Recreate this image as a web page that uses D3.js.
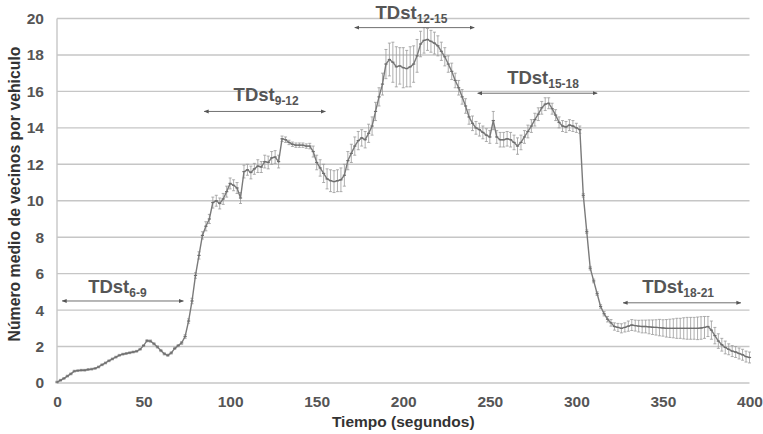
<!DOCTYPE html>
<html>
<head>
<meta charset="utf-8">
<script src="https://cdn.jsdelivr.net/npm/d3@7"></script>
<style>
  html, body { margin: 0; padding: 0; background: #fff; }
  svg { display: block; font-family: "Liberation Sans", Arial, sans-serif; }
</style>
</head>
<body>
<svg id="chart" width="763" height="434"></svg>
<script>
// ---- Data ----
const timeStep = 2; // seconds between samples
const times = d3.range(0, 401, timeStep);
const meanNeighbors = [
  0.05, 0.15, 0.25, 0.38, 0.5, 0.65, 0.68, 0.7, 0.7, 0.74,
  0.76, 0.8, 0.88, 1.0, 1.1, 1.22, 1.32, 1.42, 1.52, 1.58,
  1.62, 1.66, 1.7, 1.74, 1.85, 2.05, 2.32, 2.3, 2.15, 1.98,
  1.78, 1.6, 1.52, 1.65, 1.9, 2.05, 2.2, 2.55, 3.4, 4.5,
  5.9, 7.0, 8.1, 8.6, 9.0, 9.9, 10.0, 9.85, 10.1, 10.5,
  10.95, 10.85, 10.7, 10.15, 11.6, 11.7, 11.55, 11.75, 11.9, 11.85,
  12.15, 12.1, 12.35, 12.4, 12.15, 13.4, 13.35, 13.2, 13.1, 13.05,
  13.05, 13.05, 13.0, 13.0, 12.7, 12.1, 11.8, 11.5, 11.2, 11.1,
  11.05, 11.1, 11.15, 11.4, 12.2, 12.6, 13.0, 13.3, 13.45, 13.35,
  13.7, 14.1, 14.9, 15.7, 16.4, 17.5, 17.75, 17.6, 17.35, 17.4,
  17.3, 17.25, 17.35, 17.5, 17.95, 18.6, 18.8, 18.85, 18.75, 18.65,
  18.5, 18.2, 17.9, 17.5, 17.1, 16.6, 16.2, 15.7, 15.2, 14.6,
  14.25, 14.0, 13.9, 13.75, 13.6, 13.5, 14.4, 13.5, 13.35, 13.35,
  13.4, 13.35, 13.2, 13.0, 13.2, 13.5, 13.8, 14.1, 14.45, 14.75,
  15.1, 15.3, 15.35, 15.05, 14.7, 14.3, 14.1, 14.05, 14.15, 14.1,
  14.0, 13.9, 10.3, 8.3, 6.3, 5.6, 4.9, 4.2, 3.8, 3.5,
  3.3, 3.1, 3.05, 3.0, 3.05, 3.12, 3.18, 3.15, 3.12, 3.1,
  3.1, 3.08, 3.06, 3.05, 3.04, 3.02, 3.0, 3.0, 3.0, 3.0,
  3.0, 3.0, 3.0, 3.0, 3.0, 3.0, 3.02, 3.05, 3.1, 2.9,
  2.6, 2.3, 2.1, 1.95, 1.85, 1.75, 1.7, 1.62, 1.55, 1.45,
  1.4
];
const errorHalf = [
  0.05, 0.05, 0.05, 0.05, 0.05, 0.05, 0.05, 0.05, 0.05, 0.05,
  0.05, 0.05, 0.05, 0.05, 0.05, 0.05, 0.05, 0.05, 0.05, 0.05,
  0.05, 0.05, 0.05, 0.05, 0.05, 0.05, 0.06, 0.06, 0.06, 0.06,
  0.06, 0.06, 0.06, 0.06, 0.06, 0.06, 0.08, 0.1, 0.12, 0.15,
  0.15, 0.2, 0.2, 0.25, 0.25, 0.3, 0.3, 0.3, 0.3, 0.3,
  0.3, 0.3, 0.3, 0.3, 0.35, 0.3, 0.35, 0.3, 0.35, 0.3,
  0.35, 0.35, 0.35, 0.35, 0.35, 0.15, 0.15, 0.12, 0.12, 0.12,
  0.12, 0.12, 0.12, 0.15, 0.3, 0.4, 0.45, 0.5, 0.55, 0.6,
  0.6, 0.6, 0.65, 0.6, 0.5, 0.5, 0.5, 0.5, 0.45, 0.45,
  0.5, 0.5, 0.5, 0.5, 0.6, 0.8, 0.9, 1.1, 1.1, 1.0,
  1.1, 1.0, 1.1, 1.0, 0.9, 0.7, 0.7, 0.6, 0.6, 0.6,
  0.55, 0.5, 0.5, 0.45, 0.45, 0.4, 0.4, 0.4, 0.4, 0.4,
  0.4, 0.35, 0.35, 0.35, 0.35, 0.35, 0.5, 0.35, 0.4, 0.4,
  0.4, 0.4, 0.4, 0.45, 0.4, 0.35, 0.35, 0.35, 0.35, 0.35,
  0.35, 0.35, 0.3, 0.3, 0.3, 0.3, 0.3, 0.3, 0.3, 0.3,
  0.25, 0.2, 0.1, 0.1, 0.1, 0.1, 0.1, 0.1, 0.12, 0.15,
  0.18, 0.2, 0.22, 0.25, 0.25, 0.28, 0.3, 0.3, 0.32, 0.35,
  0.35, 0.38, 0.4, 0.42, 0.45, 0.45, 0.48, 0.5, 0.52, 0.55,
  0.55, 0.58, 0.6, 0.6, 0.6, 0.62, 0.62, 0.6, 0.55, 0.5,
  0.45, 0.4, 0.35, 0.35, 0.3, 0.3, 0.3, 0.3, 0.3, 0.3,
  0.3
];
const xTicks = [0, 50, 100, 150, 200, 250, 300, 350, 400];
const yTicks = [0, 2, 4, 6, 8, 10, 12, 14, 16, 18, 20];
const periodLabels = ["6-9", "9-12", "12-15", "15-18", "18-21"];
const periodStart = [3, 85, 172, 243, 327];
const periodEnd   = [73, 155, 241, 312, 395];
const periodValue = [4.5, 14.9, 19.5, 15.9, 4.4];
const periodTextX = [18, 102, 184, 260, 338];
const periodTextY = [4.95, 15.45, 19.95, 16.4, 4.95];
const xTitle = "Tiempo (segundos)";
const yTitle = "Número medio de vecinos por vehiculo";

// ---- Layout ----
const svg = d3.select("#chart");
const x = d3.scaleLinear().domain([0, 400]).range([57, 749.5]);
const y = d3.scaleLinear().domain([0, 20]).range([383, 18.5]);

// Gridlines
svg.append("g")
  .selectAll("line").data(yTicks).join("line")
  .attr("x1", x(0)).attr("x2", x(400))
  .attr("y1", d => y(d)).attr("y2", d => y(d))
  .attr("stroke", "#c6c6c6").attr("stroke-width", 1.4);

// Left axis line
svg.append("line")
  .attr("x1", x(0)).attr("x2", x(0))
  .attr("y1", y(20)).attr("y2", y(0))
  .attr("stroke", "#c6c6c6").attr("stroke-width", 1.4);

// Y axis labels
const yAxis = d3.axisLeft(y).tickValues(yTicks).tickSize(0).tickPadding(13);
const gy = svg.append("g").attr("transform", `translate(${x(0)},0)`).call(yAxis);
gy.select(".domain").remove();
gy.selectAll("text").attr("font-size", 15.5).attr("font-weight", "bold")
  .attr("fill", "#555").attr("font-family", "Liberation Sans, Arial, sans-serif");

// X axis labels
const xAxis = d3.axisBottom(x).tickValues(xTicks).tickSize(0).tickPadding(13);
const gx = svg.append("g").attr("transform", `translate(0,${y(0)})`).call(xAxis);
gx.select(".domain").remove();
gx.selectAll("text").attr("font-size", 15.5).attr("font-weight", "bold")
  .attr("fill", "#555").attr("font-family", "Liberation Sans, Arial, sans-serif");

// Axis titles
svg.append("text")
  .attr("x", x(200)).attr("y", 427)
  .attr("text-anchor", "middle")
  .attr("font-size", 15.5).attr("font-weight", "bold").attr("fill", "#333")
  .text(xTitle);
svg.append("text")
  .attr("transform", `translate(20,194) rotate(-90)`)
  .attr("text-anchor", "middle")
  .attr("font-size", 15.8).attr("font-weight", "bold").attr("fill", "#333")
  .text(yTitle);

// Data
const data = times.map((t, i) => ({ t, v: meanNeighbors[i], e: errorHalf[i] }));

// Error bars
const eb = svg.append("g").attr("stroke", "#9a9a9a").attr("stroke-width", 0.8);
eb.selectAll("line.v").data(data).join("line").attr("class", "v")
  .attr("x1", d => x(d.t)).attr("x2", d => x(d.t))
  .attr("y1", d => y(d.v - d.e)).attr("y2", d => y(d.v + d.e));
eb.selectAll("line.top").data(data).join("line").attr("class", "top")
  .attr("x1", d => x(d.t) - 1.5).attr("x2", d => x(d.t) + 1.5)
  .attr("y1", d => y(d.v + d.e)).attr("y2", d => y(d.v + d.e));
eb.selectAll("line.bot").data(data).join("line").attr("class", "bot")
  .attr("x1", d => x(d.t) - 1.5).attr("x2", d => x(d.t) + 1.5)
  .attr("y1", d => y(d.v - d.e)).attr("y2", d => y(d.v - d.e));

// Mean line
svg.append("path").datum(data)
  .attr("fill", "none").attr("stroke", "#7a7a7a").attr("stroke-width", 1.4)
  .attr("d", d3.line().x(d => x(d.t)).y(d => y(d.v)));

// Markers
svg.append("g").selectAll("line").data(data).join("line")
  .attr("x1", d => x(d.t) - 1.6).attr("x2", d => x(d.t) + 1.6)
  .attr("y1", d => y(d.v)).attr("y2", d => y(d.v))
  .attr("stroke", "#6e6e6e").attr("stroke-width", 1.2);

// Period annotations
const defs = svg.append("defs");
defs.append("marker").attr("id", "ah").attr("viewBox", "0 0 10 10")
  .attr("refX", 9).attr("refY", 5).attr("markerWidth", 5).attr("markerHeight", 5)
  .attr("orient", "auto-start-reverse")
  .append("path").attr("d", "M0,1 L10,5 L0,9 z").attr("fill", "#555");

const ann = svg.append("g");
periodLabels.forEach((lab, i) => {
  ann.append("line")
    .attr("x1", x(periodStart[i])).attr("x2", x(periodEnd[i]))
    .attr("y1", y(periodValue[i])).attr("y2", y(periodValue[i]))
    .attr("stroke", "#707070").attr("stroke-width", 1)
    .attr("marker-start", "url(#ah)").attr("marker-end", "url(#ah)");
  const t = ann.append("text")
    .attr("x", x(periodTextX[i])).attr("y", y(periodTextY[i]))
    .attr("font-weight", "bold").attr("fill", "#555");
  t.append("tspan").attr("font-size", 18.5).text("TDst");
  t.append("tspan").attr("font-size", 12).attr("dy", 4).text(lab);
});
</script>
</body>
</html>
